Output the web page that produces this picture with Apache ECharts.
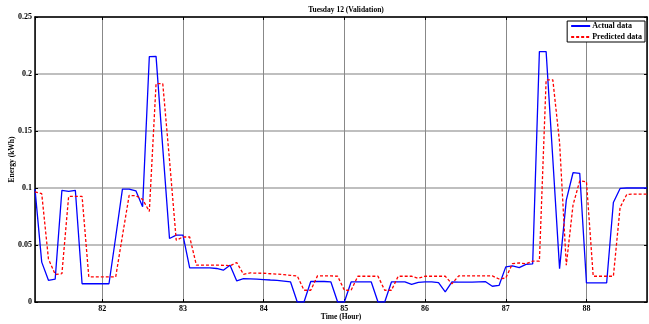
<!DOCTYPE html>
<html>
<head>
<meta charset="utf-8">
<script src="https://cdn.jsdelivr.net/npm/echarts@6/dist/echarts.min.js"></script>
<style>
html,body{margin:0;padding:0;background:#fff;}
#chart{width:649px;height:324px;}
</style>
</head>
<body>
<div id="chart"></div>
<script>
// Time axis: 5-minute samples starting at hour 81 + 10 min
const startHour = 81 + 2 / 12;
const stepHour = 1 / 12;

const actualData = [
  0.099, 0.035, 0.019, 0.020, 0.098, 0.097, 0.098, 0.016, 0.016, 0.016,
  0.016, 0.016, 0.057, 0.099, 0.099, 0.0975, 0.0835, 0.2153, 0.2155, 0.135,
  0.0557, 0.0586, 0.0586, 0.0299, 0.030, 0.030, 0.030, 0.0294, 0.0279, 0.0322,
  0.0185, 0.0205, 0.0203, 0.020, 0.0197, 0.0193, 0.019, 0.0183, 0.0176, 0,
  0, 0.018, 0.018, 0.018, 0.0176, 0, 0, 0.0176, 0.0176, 0.0176,
  0.0176, 0, 0, 0.0176, 0.0176, 0.0176, 0.0155, 0.0173, 0.0176, 0.0176,
  0.017, 0.0088, 0.0176, 0.0175, 0.0175, 0.0175, 0.0177, 0.0178, 0.0138, 0.0145,
  0.0308, 0.0316, 0.0302, 0.033, 0.0334, 0.2197, 0.2197, 0.125, 0.0293, 0.0894,
  0.1134, 0.1128, 0.0167, 0.0167, 0.0167, 0.0167, 0.0873, 0.0996, 0.100, 0.100,
  0.100, 0.100
];

const predictedData = [
  0.0967, 0.0950, 0.0378, 0.0242, 0.0248, 0.0926, 0.0926, 0.0926, 0.022, 0.022,
  0.022, 0.022, 0.022, 0.058, 0.0935, 0.0932, 0.090, 0.0795, 0.1915, 0.1915,
  0.1245, 0.0542, 0.057, 0.057, 0.0323, 0.0323, 0.0323, 0.0323, 0.0322, 0.0318,
  0.0346, 0.0243, 0.0255, 0.0253, 0.0252, 0.0248, 0.0245, 0.024, 0.0234, 0.0228,
  0.0103, 0.0103, 0.0229, 0.0229, 0.0229, 0.0226, 0.0103, 0.0103, 0.0226, 0.0226,
  0.0226, 0.0226, 0.0103, 0.0103, 0.0226, 0.0226, 0.0226, 0.0208, 0.0226, 0.0226,
  0.0226, 0.0226, 0.016, 0.0229, 0.0229, 0.0229, 0.0229, 0.0229, 0.0229, 0.0202,
  0.021, 0.0337, 0.0343, 0.0335, 0.0358, 0.0358, 0.1948, 0.1948, 0.14, 0.0322,
  0.085, 0.1063, 0.1055, 0.0226, 0.0226, 0.0226, 0.0226, 0.083, 0.0944, 0.0946,
  0.0946, 0.0946
];

const seriesNames = ['Actual data', 'Predicted data'];
const titleText = 'Tuesday 12 (Validation)';
const xName = 'Time (Hour)';
const yName = 'Energy (kWh)';
const xMin = startHour;
const xMax = startHour + (actualData.length - 1) * stepHour;
const yMin = 0, yMax = 0.25, yStep = 0.05;

const times = actualData.map((_, i) => startHour + i * stepHour);
const actualPairs = times.map((t, i) => [t, actualData[i]]);
const predictedPairs = times.map((t, i) => [t, predictedData[i]]);

const FONT = 'Liberation Serif';
const chart = echarts.init(document.getElementById('chart'), null, {renderer: 'canvas'});

const xLabelFmt = v => (Math.abs(v - Math.round(v)) < 1e-6 ? String(Math.round(v)) : '');

chart.setOption({
  animation: false,
  backgroundColor: '#fff',
  title: {
    text: titleText,
    left: 341,
    top: 1,
    textAlign: 'center',
    textStyle: {fontFamily: FONT, fontWeight: 'bold', fontSize: 7.5, color: '#000'}
  },
  legend: {
    data: seriesNames,
    orient: 'vertical',
    right: 4,
    top: 21,
    backgroundColor: '#fff',
    borderColor: '#000',
    borderWidth: 1,
    borderRadius: 0,
    padding: [1, 3, 1, 3],
    itemGap: 3,
    itemWidth: 19,
    itemHeight: 8,
    align: 'left',
    itemStyle: {opacity: 0},
    textStyle: {fontFamily: FONT, fontWeight: 'bold', fontSize: 8, color: '#000', padding: [0, 0, 0, -3]}
  },
  grid: {left: 35, right: 2, top: 17, bottom: 22, containLabel: false, outerBoundsMode: 'none'},
  xAxis: [{
    type: 'value',
    min: xMin,
    max: xMax,
    splitNumber: 8,
    name: xName,
    nameLocation: 'middle',
    nameGap: 11,
    nameMoveOverlap: false,
    nameTextStyle: {fontFamily: FONT, fontWeight: 'bold', fontSize: 7.5, color: '#000'},
    axisLine: {show: true, onZero: false, lineStyle: {color: '#000', width: 1.5}},
    axisTick: {show: true, inside: true, length: 3, lineStyle: {color: '#000'}},
    axisLabel: {formatter: xLabelFmt, showMinLabel: false, showMaxLabel: false, margin: 3,
      fontFamily: FONT, fontWeight: 'bold', fontSize: 8, color: '#000'},
    splitLine: {show: true, lineStyle: {color: '#888', width: 1}}
  }, {
    type: 'value',
    position: 'top',
    min: xMin,
    max: xMax,
    splitNumber: 8,
    axisLine: {show: true, onZero: false, lineStyle: {color: '#000', width: 1.5}},
    axisTick: {show: true, inside: true, length: 3, lineStyle: {color: '#000'}},
    axisLabel: {show: false},
    splitLine: {show: false}
  }],
  yAxis: [{
    type: 'value',
    min: yMin,
    max: yMax,
    interval: yStep,
    name: yName,
    nameLocation: 'middle',
    nameGap: 19,
    nameMoveOverlap: false,
    nameTextStyle: {fontFamily: FONT, fontWeight: 'bold', fontSize: 7.5, color: '#000'},
    axisLine: {show: true, lineStyle: {color: '#000', width: 1.5}},
    axisTick: {show: true, inside: true, length: 3, lineStyle: {color: '#000'}},
    axisLabel: {margin: 3, fontFamily: FONT, fontWeight: 'bold', fontSize: 8, color: '#000'},
    splitLine: {show: true, lineStyle: {color: '#aaa', width: 1.5}}
  }, {
    type: 'value',
    position: 'right',
    min: yMin,
    max: yMax,
    interval: yStep,
    axisLine: {show: true, lineStyle: {color: '#000', width: 1.5}},
    axisTick: {show: true, inside: true, length: 3, lineStyle: {color: '#000'}},
    axisLabel: {show: false},
    splitLine: {show: false}
  }],
  series: [{
    name: seriesNames[0],
    type: 'line',
    data: actualPairs,
    symbol: 'none',
    showSymbol: false,
    color: '#0000ff',
    lineStyle: {color: '#0000ff', width: 1.3},
    z: 3
  }, {
    name: seriesNames[1],
    type: 'line',
    data: predictedPairs,
    symbol: 'none',
    showSymbol: false,
    color: '#ff0000',
    lineStyle: {color: '#ff0000', width: 1.3, type: [3, 2]},
    z: 4
  }]
});
</script>
</body>
</html>
